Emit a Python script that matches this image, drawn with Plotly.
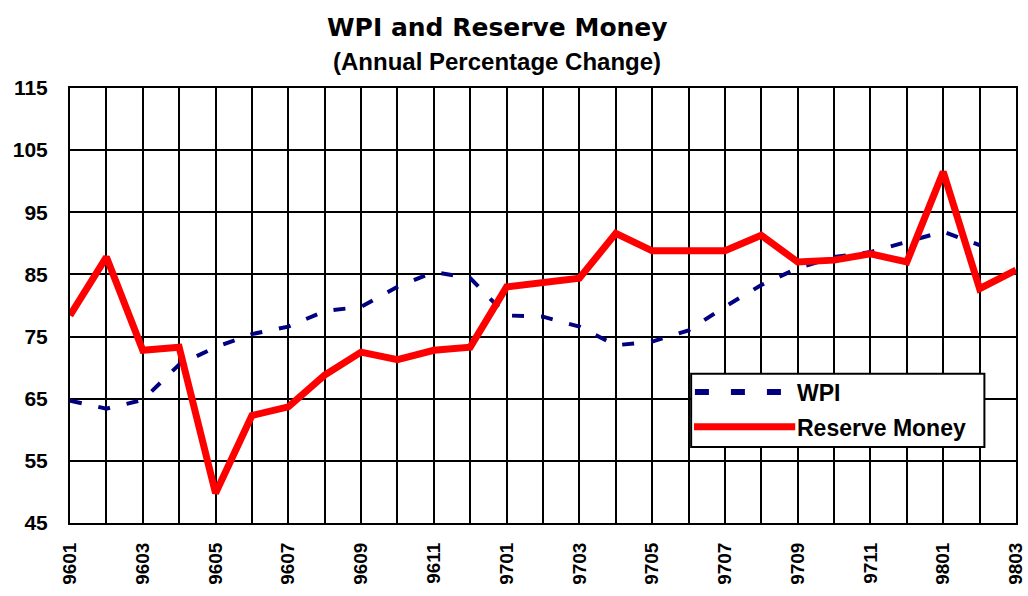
import plotly.graph_objects as go

months = ["9601","9602","9603","9604","9605","9606","9607","9608","9609","9610","9611","9612",
          "9701","9702","9703","9704","9705","9706","9707","9708","9709","9710","9711","9712",
          "9801","9802","9803"]
wpi = [64.7, 63.4, 64.8, 70.5, 73.3, 75.4, 76.6, 79.1, 79.8, 83.0, 85.4, 84.4,
       78.4, 78.2, 76.6, 73.6, 74.2, 76.0, 79.8, 83.3, 86.0, 87.8, 88.6, 90.2,
       91.9, 89.7, None]
reserve_money = [78.4, 87.8, 72.8, 73.3, 49.8, 62.3, 63.7, 68.8, 72.5, 71.3, 72.8, 73.3,
                 83.0, 83.8, 84.4, 91.6, 88.8, 88.8, 88.8, 91.3, 87.0, 87.3, 88.3, 87.0,
                 101.5, 82.7, 85.7]
y_ticks = [45, 55, 65, 75, 85, 95, 105, 115]

idx = list(range(len(months)))
FONT = "Liberation Sans, Arial, sans-serif"
TITLE_FONT = "DejaVu Sans, Liberation Sans, Arial, sans-serif"
WPI_COLOR = "#000080"
RM_COLOR = "#ff0000"
WPI_DASH = "12px,17px"

fig = go.Figure()
fig.add_trace(go.Scatter(x=idx, y=wpi, name="WPI", mode="lines", showlegend=False,
                         line=dict(color=WPI_COLOR, width=4, dash=WPI_DASH)))
fig.add_trace(go.Scatter(x=idx, y=reserve_money, name="Reserve Money", mode="lines", showlegend=False,
                         line=dict(color=RM_COLOR, width=7)))

# legend box (drawn as shapes/annotations to match the reference's wide layout)
lx0, lx1, ly0, ly1 = 0.6566, 0.9666, 0.175, 0.343
shapes = [
    dict(type="rect", xref="paper", yref="paper", x0=lx0, x1=lx1, y0=ly0, y1=ly1,
         fillcolor="white", line=dict(color="black", width=2), layer="above"),
    dict(type="line", xref="paper", yref="paper", x0=lx0 + 0.004, x1=lx0 + 0.106, y0=0.301, y1=0.301,
         line=dict(color=WPI_COLOR, width=6, dash="14px,22px"), layer="above"),
    dict(type="line", xref="paper", yref="paper", x0=lx0 + 0.003, x1=lx0 + 0.110, y0=0.221, y1=0.221,
         line=dict(color=RM_COLOR, width=7), layer="above"),
]
annotations = [
    dict(text="<b>WPI</b>", xref="paper", yref="paper", x=lx0 + 0.110, y=0.298, xanchor="left",
         yanchor="middle", showarrow=False, font=dict(size=23, family=FONT, color="black")),
    dict(text="<b>Reserve Money</b>", xref="paper", yref="paper", x=lx0 + 0.110, y=0.218, xanchor="left",
         yanchor="middle", showarrow=False, font=dict(size=23, family=FONT, color="black")),
    dict(text="<b>WPI and Reserve Money</b>", xref="paper", yref="paper", x=0.4515, y=1.138,
         xanchor="center", yanchor="middle", showarrow=False,
         font=dict(size=25, family=TITLE_FONT, color="black")),
    dict(text="<b>(Annual Percentage Change)</b>", xref="paper", yref="paper", x=0.4515, y=1.060,
         xanchor="center", yanchor="middle", showarrow=False,
         font=dict(size=24, family=FONT, color="black")),
]

fig.update_layout(
    width=1028, height=596,
    margin=dict(l=70, r=12, t=88, b=73),
    paper_bgcolor="white", plot_bgcolor="white",
    font=dict(family=FONT, color="black"),
    showlegend=False,
    shapes=shapes, annotations=annotations,
    xaxis=dict(range=[0, len(months) - 1], tickvals=idx[::2], ticktext=[f"<b>{m}</b>" for m in months[::2]],
               tickangle=-90, tickfont=dict(size=19), automargin=False, ticklabelstandoff=10,
               ticklabeloverflow="allow",
               showgrid=True, gridcolor="black", gridwidth=2,
               minor=dict(dtick=1, tick0=0, showgrid=True, gridcolor="black", gridwidth=2),
               showline=True, linecolor="black", linewidth=2, mirror=True,
               ticks="", zeroline=False),
    yaxis=dict(range=[45, 115], tickvals=y_ticks, ticktext=[f"<b>{v}</b>" for v in y_ticks],
               tickfont=dict(size=21), automargin=False, ticklabelstandoff=16,
               showgrid=True, gridcolor="black", gridwidth=2,
               showline=True, linecolor="black", linewidth=2, mirror=True,
               ticks="", zeroline=False),
)

# remove the default page margin so the figure fills the 1028x596 window exactly
fig.write_html("out.html", config={"displayModeBar": False},
               post_script="document.body.style.margin='0';document.body.style.overflow='hidden';")
